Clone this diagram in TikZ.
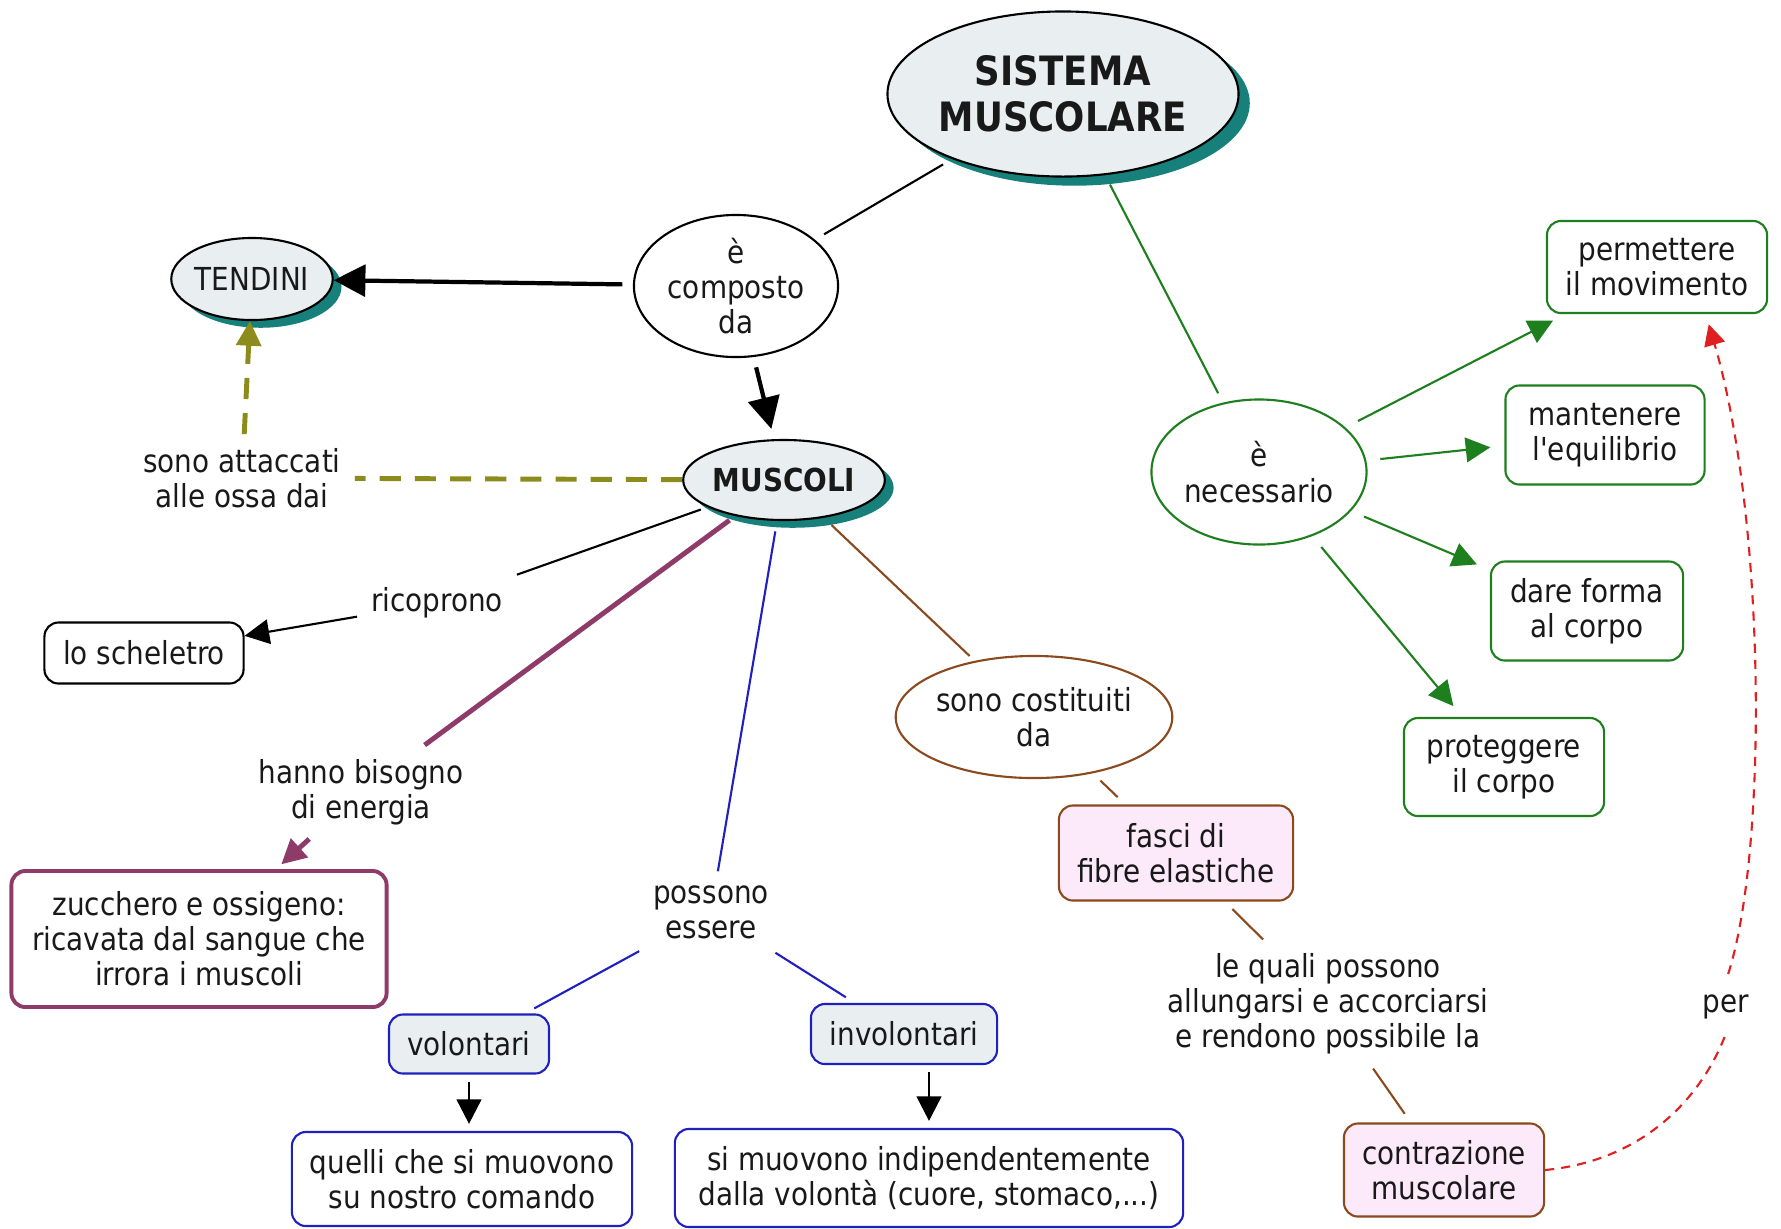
\documentclass[tikz,border=0pt]{standalone}
\usepackage{fontspec}
\setmainfont{DejaVu Sans}[FakeStretch=0.88, Ligatures=TeXOff]
\usetikzlibrary{shapes.geometric,shadows,arrows.meta}
\definecolor{ovalfill}{HTML}{E9EFF1}
\definecolor{shade}{HTML}{18807A}
\definecolor{grn}{HTML}{1E7F1E}
\definecolor{blu}{HTML}{2020C0}
\definecolor{prp}{HTML}{8E3B6A}
\definecolor{brn}{HTML}{8B4A1E}
\definecolor{pinkfill}{HTML}{FCE9FA}
\definecolor{olv}{HTML}{8C8C1C}
\definecolor{redd}{HTML}{E02020}

\begin{document}
\begin{tikzpicture}[x=0.01cm,y=-0.01cm,
  every node/.style={font=\fontsize{9}{10}\selectfont, text=black!90},
  oval/.style={ellipse, draw, line width=0.6pt, fill=ovalfill, align=center, inner sep=0pt,
    drop shadow={shadow xshift=2.5pt, shadow yshift=-2.2pt, fill=shade, opacity=1}},
  link/.style={ellipse, draw, line width=0.6pt, fill=white, align=center, inner sep=0pt},
  box/.style={draw, line width=0.6pt, rounded corners=4pt, fill=white, align=center, inner sep=0pt},
  lbl/.style={align=center, inner sep=1pt, outer sep=3pt},
  tip/.style={-{Triangle[length=7pt,width=7pt]}},
  bigtip/.style={-{Triangle[length=9pt,width=9pt]}}]
\path[fill=white] (0,0) rectangle (1781,1228);

\node[oval, minimum width=3.15cm, minimum height=1.65cm, font=\bfseries\fontsize{11.5}{13}\selectfont,
  drop shadow={shadow xshift=3.2pt, shadow yshift=-2.6pt, fill=shade, opacity=1}] (sistema) at (1063,94) {SISTEMA\\MUSCOLARE};
\node[link, minimum width=2.04cm, minimum height=1.42cm] (composto) at (736,286) {è\\composto\\da};
\node[oval, minimum width=1.58cm, minimum height=0.82cm] (tendini) at (252,279) {TENDINI};
\node[oval, minimum width=1.82cm, minimum height=0.8cm, font=\bfseries\fontsize{9}{10}\selectfont] (muscoli) at (784,480) {MUSCOLI};
\node[lbl] (attaccati) at (242,478) {sono attaccati\\alle ossa dai};
\node[lbl] (ricoprono) at (437,603) {ricoprono};
\node[box, minimum width=1.99cm, minimum height=0.61cm] (scheletro) at (144,653) {lo scheletro};
\node[lbl] (bisogno) at (361,792) {hanno bisogno\\di energia};
\node[box, draw=prp, line width=1.1pt, minimum width=3.75cm, minimum height=1.36cm] (zucchero) at (199,939)
  {zucchero e ossigeno:\\ricavata dal sangue che\\irrora i muscoli};
\node[lbl] (possono) at (711,912) {possono\\essere};
\node[box, draw=blu, fill=ovalfill, minimum width=1.6cm, minimum height=0.59cm] (volontari) at (469,1044) {volontari};
\node[box, draw=blu, fill=ovalfill, minimum width=1.86cm, minimum height=0.6cm] (involontari) at (904,1034) {involontari};
\node[box, draw=blu, minimum width=3.4cm, minimum height=0.94cm] (quelli) at (462,1179) {quelli che si muovono\\su nostro comando};
\node[box, draw=blu, minimum width=5.08cm, minimum height=0.98cm] (simuovono) at (929,1178)
  {si muovono indipendentemente\\dalla volontà (cuore, stomaco,...)};
\node[link, draw=brn, minimum width=2.42cm, minimum height=1.22cm] (costituiti) at (1034,717) {sono costituiti\\da};
\node[box, draw=brn, fill=pinkfill, minimum width=2.34cm, minimum height=0.95cm] (fasci) at (1176,853) {fasci di\\fibre elastiche};
\node[lbl] (quali) at (1328,1004) {le quali possono\\allungarsi e accorciarsi\\e rendono possibile la};
\node[box, draw=brn, fill=pinkfill, minimum width=2cm, minimum height=0.93cm] (contrazione) at (1444,1170) {contrazione\\muscolare};
\node[link, draw=grn, minimum width=2.15cm, minimum height=1.45cm] (necessario) at (1259,472) {è\\necessario};
\node[box, draw=grn, minimum width=2.2cm, minimum height=0.92cm] (movimento) at (1657,267) {permettere\\il movimento};
\node[box, draw=grn, minimum width=1.99cm, minimum height=0.99cm] (equilibrio) at (1605,435) {mantenere\\l'equilibrio};
\node[box, draw=grn, minimum width=1.92cm, minimum height=0.99cm] (forma) at (1587,611) {dare forma\\al corpo};
\node[box, draw=grn, minimum width=2cm, minimum height=0.98cm] (protegge) at (1504,767) {proteggere\\il corpo};
\node[lbl] (per) at (1726,1007) {per};

\draw[line width=0.6pt, shorten <=3pt, shorten >=3pt] (sistema) -- (composto);
\draw[grn, line width=0.6pt, shorten <=3pt, shorten >=3pt] (sistema) -- (necessario);
\draw[line width=1.2pt, bigtip, shorten <=3pt] (composto) -- (tendini);
\draw[line width=1.2pt, bigtip, shorten <=3pt, shorten >=3pt] (composto) -- (muscoli);
\draw[olv, line width=1.4pt, dash pattern=on 6pt off 4pt] (muscoli) -- (attaccati);
\draw[olv, line width=1.4pt, dash pattern=on 6pt off 4pt, tip] (attaccati) -- (tendini);
\draw[line width=0.6pt, shorten <=2pt] (muscoli) -- (ricoprono);
\draw[line width=0.6pt, tip] (ricoprono) -- (scheletro);
\draw[prp, line width=1.4pt, shorten <=2pt] (muscoli) -- (bisogno);
\draw[prp, line width=1.4pt, tip, shorten >=2pt] (bisogno) -- (zucchero);
\draw[blu, line width=0.6pt, shorten <=3pt] (muscoli) -- (possono);
\draw[blu, line width=0.6pt, shorten >=3pt] (possono) -- (volontari);
\draw[blu, line width=0.6pt, shorten >=3pt] (possono) -- (involontari);
\draw[line width=0.8pt, tip, shorten <=2pt, shorten >=2pt] (volontari) -- (volontari |- quelli.north);
\draw[line width=0.8pt, tip, shorten <=2pt, shorten >=2pt] (involontari.south -| simuovono) -- (simuovono.north);
\draw[brn, line width=0.6pt, shorten <=3pt, shorten >=2pt] (muscoli) -- (costituiti);
\draw[brn, line width=0.6pt, shorten <=3pt, shorten >=3pt] (costituiti) -- (fasci);
\draw[brn, line width=0.6pt, shorten <=3pt] (fasci) -- (quali);
\draw[brn, line width=0.6pt, shorten >=3pt] (quali) -- (contrazione);
\foreach \goal in {movimento,equilibrio,forma,protegge}
  \draw[grn, line width=0.6pt, tip, shorten <=4pt, shorten >=4pt] (necessario) -- (\goal);
\draw[redd, line width=0.6pt, dash pattern=on 2.6pt off 2pt, -{Triangle[length=6pt,width=6pt]}, shorten <=2pt, shorten >=3pt]
  (contrazione.east) .. controls (1650,1160) and (1705,1090) .. (per.south)
  (per.north) .. controls (1768,850) and (1766,520) .. (movimento.-44);
\end{tikzpicture}
\end{document}
